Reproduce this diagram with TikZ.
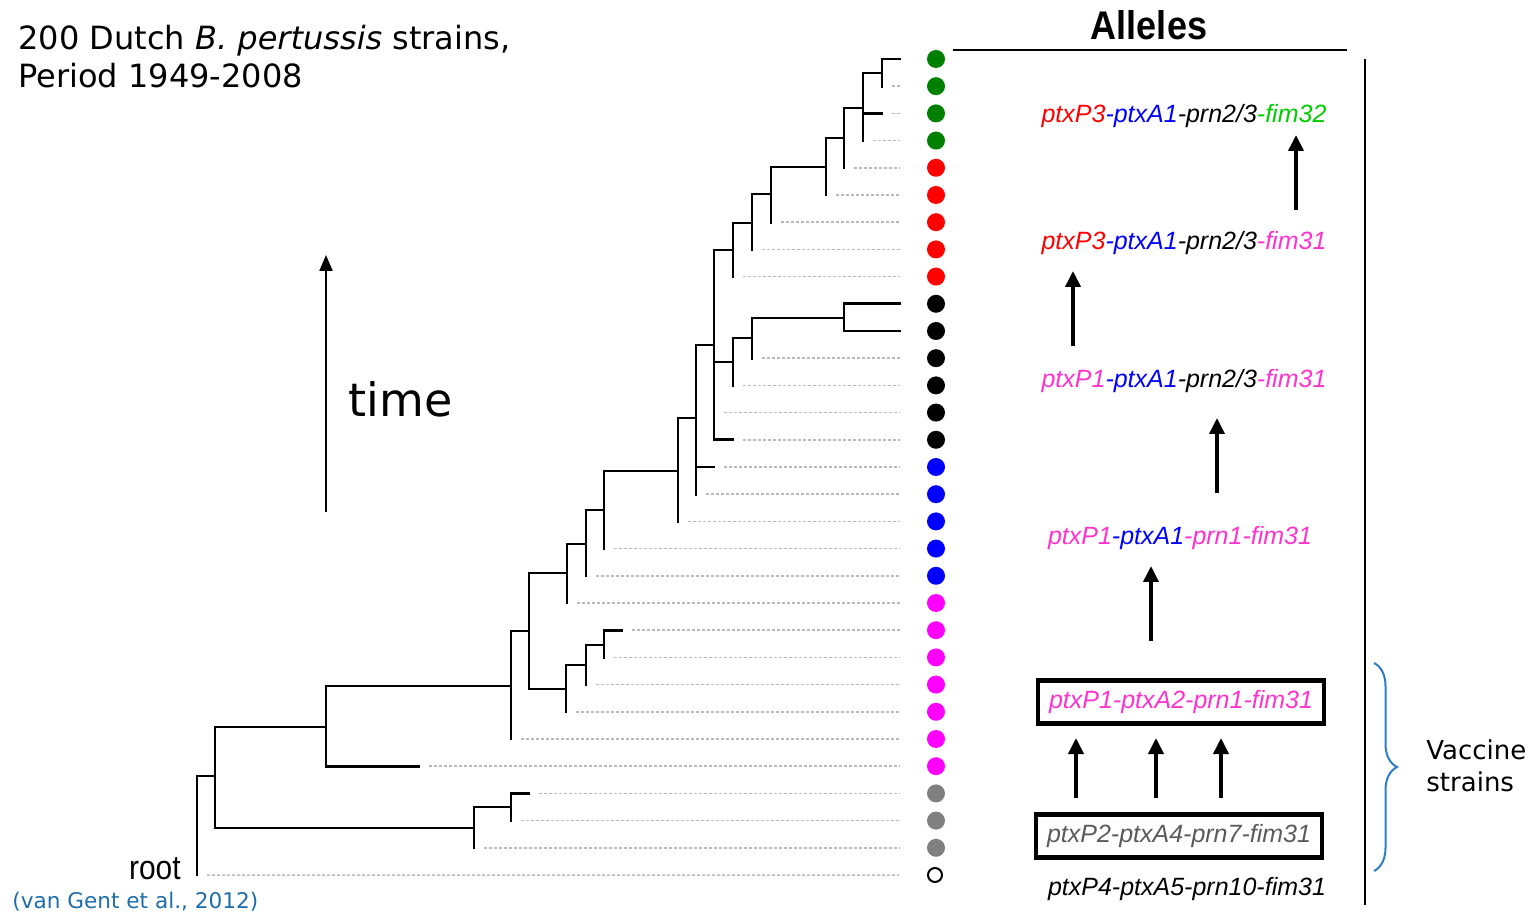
\documentclass[tikz,border=0pt]{standalone}
\usepackage{fontspec}
\setmainfont{DejaVu Sans}
\newfontfamily\allelefont{Liberation Sans}
\usetikzlibrary{arrows.meta, positioning, decorations.pathreplacing}

\definecolor{ptxred}{RGB}{255,0,0}
\definecolor{ptxblue}{RGB}{0,0,255}
\definecolor{fimgreen}{RGB}{0,204,0}
\definecolor{fimpink}{RGB}{255,51,204}
\definecolor{vacgray}{RGB}{90,90,90}
\definecolor{dotgreen}{RGB}{0,128,0}
\definecolor{dotred}{RGB}{255,0,0}
\definecolor{dotblue}{RGB}{0,0,255}
\definecolor{dotpink}{RGB}{255,0,255}
\definecolor{dotgray}{RGB}{128,128,128}
\definecolor{citeblue}{RGB}{31,110,170}
\definecolor{bracecol}{RGB}{45,125,200}
\definecolor{tipgray}{RGB}{185,185,185}

\tikzset{
  branch/.style={line width=1.4pt, line cap=rect},
  tipline/.style={line width=0.75pt, tipgray, dash pattern=on 1.5pt off 1pt},
  leafdot/.style={circle, minimum size=9pt, inner sep=0pt},
  allele/.style={font=\allelefont\itshape\fontsize{12.5pt}{15pt}\selectfont, inner sep=0pt, anchor=base},
  vacbox/.style={allele, draw, line width=2.4pt, anchor=center, minimum width=143pt, minimum height=21.5pt},
  uparrow/.style={line width=1.8pt, -{Triangle[length=8pt, width=7.5pt]}},
  rulestroke/.style={line width=1pt},
  bigtext/.style={font=\fontsize{16pt}{19pt}\selectfont, inner sep=0pt, anchor=base west}
}

\begin{document}
\begin{tikzpicture}[x=0.5pt, y=-0.5pt]
\useasboundingbox (0,0) rectangle (1533,914);

% Heading
\node[bigtext] (title) at (18,50) {200 Dutch \textit{B. pertussis} strains,};
\node[bigtext] (period) at (18,88) {Period 1949-2008};

% Time axis
\coordinate (tbot) at (326,512);
\coordinate (ttop) at (326,255);
\draw[line width=1.1pt, -{Triangle[length=8pt, width=6.5pt]}] (tbot) -- (ttop);
\node[font=\fontsize{23pt}{27pt}\selectfont, anchor=base west, inner sep=0pt] (time) at (348,417) {time};

% Tree: inner nodes
\foreach \n/\x/\y in {A/882/73, B/863/108, C/844/138, D/826/167, E/771/194, F/752/223,
    G/733/250, H/714/345, I/733/362, J/752/338, K/844/318, L/696/418, M/678/471,
    N/604/510, O/586/544, P/567/573, Q/529/631, R/566/689, T/586/665, U/604/645,
    S/511/686, V/326/727, W/215/776, X/474/828, Y/511/807, root/197/776}
  \coordinate (n\n) at (\x,\y);

% Tree: leaf tips
\foreach \i/\x in {0/900, 1/882, 2/882, 3/863, 4/844, 5/826, 6/771, 7/752, 8/733,
    9/900, 10/900, 11/752, 12/733, 13/714, 14/733, 15/714, 16/696, 17/678, 18/604,
    19/586, 20/567, 21/622, 22/604, 23/586, 24/566, 25/511, 26/419, 27/529, 28/511,
    29/474, 30/197}
  \coordinate (t\i) at (\x,{59+27.2*\i});

% Strain dots
\foreach \c [count=\i from 0] in {dotgreen,dotgreen,dotgreen,dotgreen,dotred,dotred,dotred,
    dotred,dotred,black,black,black,black,black,black,dotblue,dotblue,dotblue,dotblue,
    dotblue,dotpink,dotpink,dotpink,dotpink,dotpink,dotpink,dotpink,dotgray,dotgray,dotgray}
  \node[leafdot, fill=\c] (d\i) at (936,{59+27.2*\i}) {};
\node[leafdot, draw, fill=white, line width=1pt, minimum size=7pt] (d30) at (935,875) {};

% Branches
\foreach \p/\c in {nA/t0, nA/t1, nB/nA, nB/t2, nB/t3, nC/nB, nC/t4, nD/nC, nD/t5,
    nE/nD, nE/t6, nF/nE, nF/t7, nG/nF, nG/t8, nK/t9, nK/t10, nJ/nK, nJ/t11, nI/nJ,
    nI/t12, nH/nG, nH/nI, nH/t13, nH/t14, nL/nH, nL/t15, nL/t16, nM/nL, nM/t17,
    nN/nM, nN/t18, nO/nN, nO/t19, nP/nO, nP/t20, nU/t21, nU/t22, nT/nU, nT/t23,
    nR/nT, nR/t24, nQ/nP, nQ/nR, nS/nQ, nS/t25, nV/nS, nV/t26, nY/t27, nY/t28,
    nX/nY, nX/t29, nW/nV, nW/nX, nroot/nW, nroot/t30}
  \draw[branch] (\p) |- (\c);

% Dotted tips to the strain dots
\foreach \i in {1,2,3,4,5,6,7,8,11,12,...,30}
  \draw[tipline] ([xshift=5pt]t\i) -- ([xshift=-18pt]d\i.center);

\node[font=\allelefont\fontsize{17pt}{20pt}\selectfont, anchor=base east, inner sep=0pt] (rootlbl) at (181,879) {\scalebox{0.88}[1]{root}};
\node[font=\fontsize{10.8pt}{13pt}\selectfont, text=citeblue, anchor=base west, inner sep=0pt] (cite) at (12,908) {(van Gent et al., 2012)};

% Alleles column
\node[font=\allelefont\bfseries\fontsize{20pt}{24pt}\selectfont, anchor=base, inner sep=0pt] (allhdr) at (1149,40) {\scalebox{0.9}[1]{Alleles}};
\draw[rulestroke] (953,50) -- (1347,50);
\draw[rulestroke] (1365,59) -- (1365,905);

\node[allele] (lab1) at (1184,123) {\textcolor{ptxred}{ptxP3}\textcolor{ptxblue}{-ptxA1}-prn2/3\textcolor{fimgreen}{-fim32}};
\node[allele] (lab2) at (1184,250) {\textcolor{ptxred}{ptxP3}\textcolor{ptxblue}{-ptxA1}-prn2/3\textcolor{fimpink}{-fim31}};
\node[allele] (lab3) at (1184,388) {\textcolor{fimpink}{ptxP1}\textcolor{ptxblue}{-ptxA1}-prn2/3\textcolor{fimpink}{-fim31}};
\node[allele] (lab4) at (1180,545) {\textcolor{fimpink}{ptxP1}\textcolor{ptxblue}{-ptxA1}\textcolor{fimpink}{-prn1-fim31}};
\node[vacbox, text=fimpink] (lab5) at (1181,702) {ptxP1-ptxA2-prn1-fim31};
\node[vacbox, text=vacgray] (lab6) at (1179,836) {ptxP2-ptxA4-prn7-fim31};
\node[allele] (lab7) at (1187,895) {ptxP4-ptxA5-prn10-fim31};

% Transitions
\foreach \n/\x/\yb/\yt in {1/1296/210/135, 2/1073/346/271, 3/1217/493/418, 4/1151/641/566,
    5/1076/798/738, 6/1156/798/738, 7/1221/798/738} {
  \coordinate (s\n) at (\x,\yb);
  \coordinate (e\n) at (\x,\yt);
  \draw[uparrow] (s\n) -- (e\n);
}

% Vaccine strains
\draw[decorate, decoration={brace, amplitude=11.5pt}, line width=1pt, bracecol] (1374,663) -- (1374,871);
\node[font=\fontsize{13pt}{16pt}\selectfont, align=left, anchor=west, inner sep=0pt] (vacc) at (1426,766) {Vaccine\\strains};

\end{tikzpicture}
\end{document}
